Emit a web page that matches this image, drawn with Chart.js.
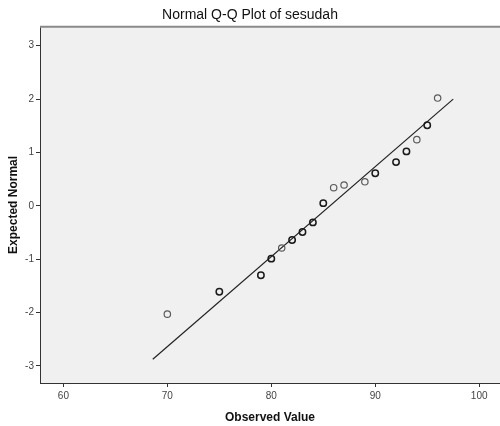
<!DOCTYPE html>
<html>
<head>
<meta charset="utf-8">
<script src="https://cdn.jsdelivr.net/npm/chart.js@4.4.1/dist/chart.umd.min.js"></script>
<style>
html,body{margin:0;padding:0;background:#fff;overflow:hidden;}
#wrap{position:relative;width:500px;height:426px;}
</style>
</head>
<body>
<div id="wrap"><canvas id="c" width="500" height="426"></canvas></div>
<script>
const observed = [70, 75, 79, 80, 81, 82, 83, 84, 85, 86, 87, 89, 90, 92, 93, 94, 95, 96];
const expectedNormal = [-2.03, -1.61, -1.30, -0.99, -0.79, -0.64, -0.49, -0.31, 0.05, 0.34, 0.39, 0.45, 0.61, 0.82, 1.02, 1.24, 1.51, 2.02];
// number of cases at each value (overlapping marks look darker)
const caseCount = [1, 2, 2, 2, 1, 2, 2, 2, 2, 1, 1, 1, 2, 2, 2, 1, 2, 1];
// reference line end points
const lineX = [68.6, 97.5];
const lineY = [-2.875, 2.0];
const xTicks = [60, 70, 80, 90, 100];
const yTicks = [-3, -2, -1, 0, 1, 2, 3];

const FONT = "'Liberation Sans', Arial, sans-serif";

const frame = {
  id: 'frame',
  beforeDraw(chart) {
    const {ctx, chartArea: a} = chart;
    ctx.save();
    ctx.fillStyle = '#f0f0f0';
    ctx.fillRect(a.left, a.top, a.right - a.left, a.bottom - a.top);
    ctx.restore();
  },
  afterDraw(chart) {
    const {ctx, chartArea: a} = chart;
    ctx.save();
    ctx.strokeStyle = '#8a8a8a';
    ctx.lineWidth = 2;
    ctx.beginPath();
    ctx.moveTo(a.left, a.top);
    ctx.lineTo(a.right, a.top);
    ctx.stroke();
    ctx.restore();
  }
};

new Chart(document.getElementById('c'), {
  type: 'scatter',
  data: {
    datasets: [
      {
        type: 'line',
        data: lineX.map((x, i) => ({x, y: lineY[i]})),
        borderColor: '#222',
        borderWidth: 1.2,
        pointRadius: 0,
        fill: false,
        order: 2
      },
      {
        data: observed.map((x, i) => ({x, y: expectedNormal[i]})),
        pointRadius: 3.2,
        pointBorderWidth: ctx => (caseCount[ctx.dataIndex] > 1 ? 1.5 : 1.2),
        pointBorderColor: ctx => (caseCount[ctx.dataIndex] > 1 ? '#1a1a1a' : '#5a5a5a'),
        pointBackgroundColor: 'rgba(0,0,0,0)',
        order: 1
      }
    ]
  },
  options: {
    responsive: false,
    animation: false,
    devicePixelRatio: 1,
    layout: {autoPadding: false, padding: {left: 0, right: 0, top: 0, bottom: 0}},
    plugins: {
      legend: {display: false},
      tooltip: {enabled: false},
      title: {
        display: true,
        text: 'Normal Q-Q Plot of sesudah',
        color: '#111',
        font: {family: FONT, size: 14, weight: 'normal'},
        padding: {top: 7, bottom: 3}
      }
    },
    scales: {
      x: {
        type: 'linear',
        min: 57.75,
        max: 102.0,
        afterFit: s => { s.height = 43; s.paddingRight = 0; s.paddingLeft = 0; },
        afterBuildTicks: s => { s.ticks = xTicks.map(v => ({value: v})); },
        grid: {drawOnChartArea: false, drawTicks: true, tickLength: 4, color: '#333'},
        border: {display: true, color: '#333', width: 1},
        ticks: {color: '#444', font: {family: FONT, size: 10}, padding: 3, maxRotation: 0},
        title: {display: true, text: 'Observed Value', color: '#111', font: {family: FONT, size: 12, weight: 'bold'}, padding: {top: 4, bottom: 1}}
      },
      y: {
        type: 'linear',
        min: -3.32,
        max: 3.355,
        afterFit: s => { s.width = 40; s.paddingTop = 0; s.paddingBottom = 0; },
        afterBuildTicks: s => { s.ticks = yTicks.map(v => ({value: v})); },
        grid: {drawOnChartArea: false, drawTicks: true, tickLength: 4, color: '#333'},
        border: {display: true, color: '#333', width: 1},
        ticks: {color: '#444', font: {family: FONT, size: 10}, padding: 2},
        title: {display: true, text: 'Expected Normal', color: '#111', font: {family: FONT, size: 12, weight: 'bold'}, padding: {top: 6, bottom: 2}}
      }
    }
  },
  plugins: [frame]
});
</script>
</body>
</html>
